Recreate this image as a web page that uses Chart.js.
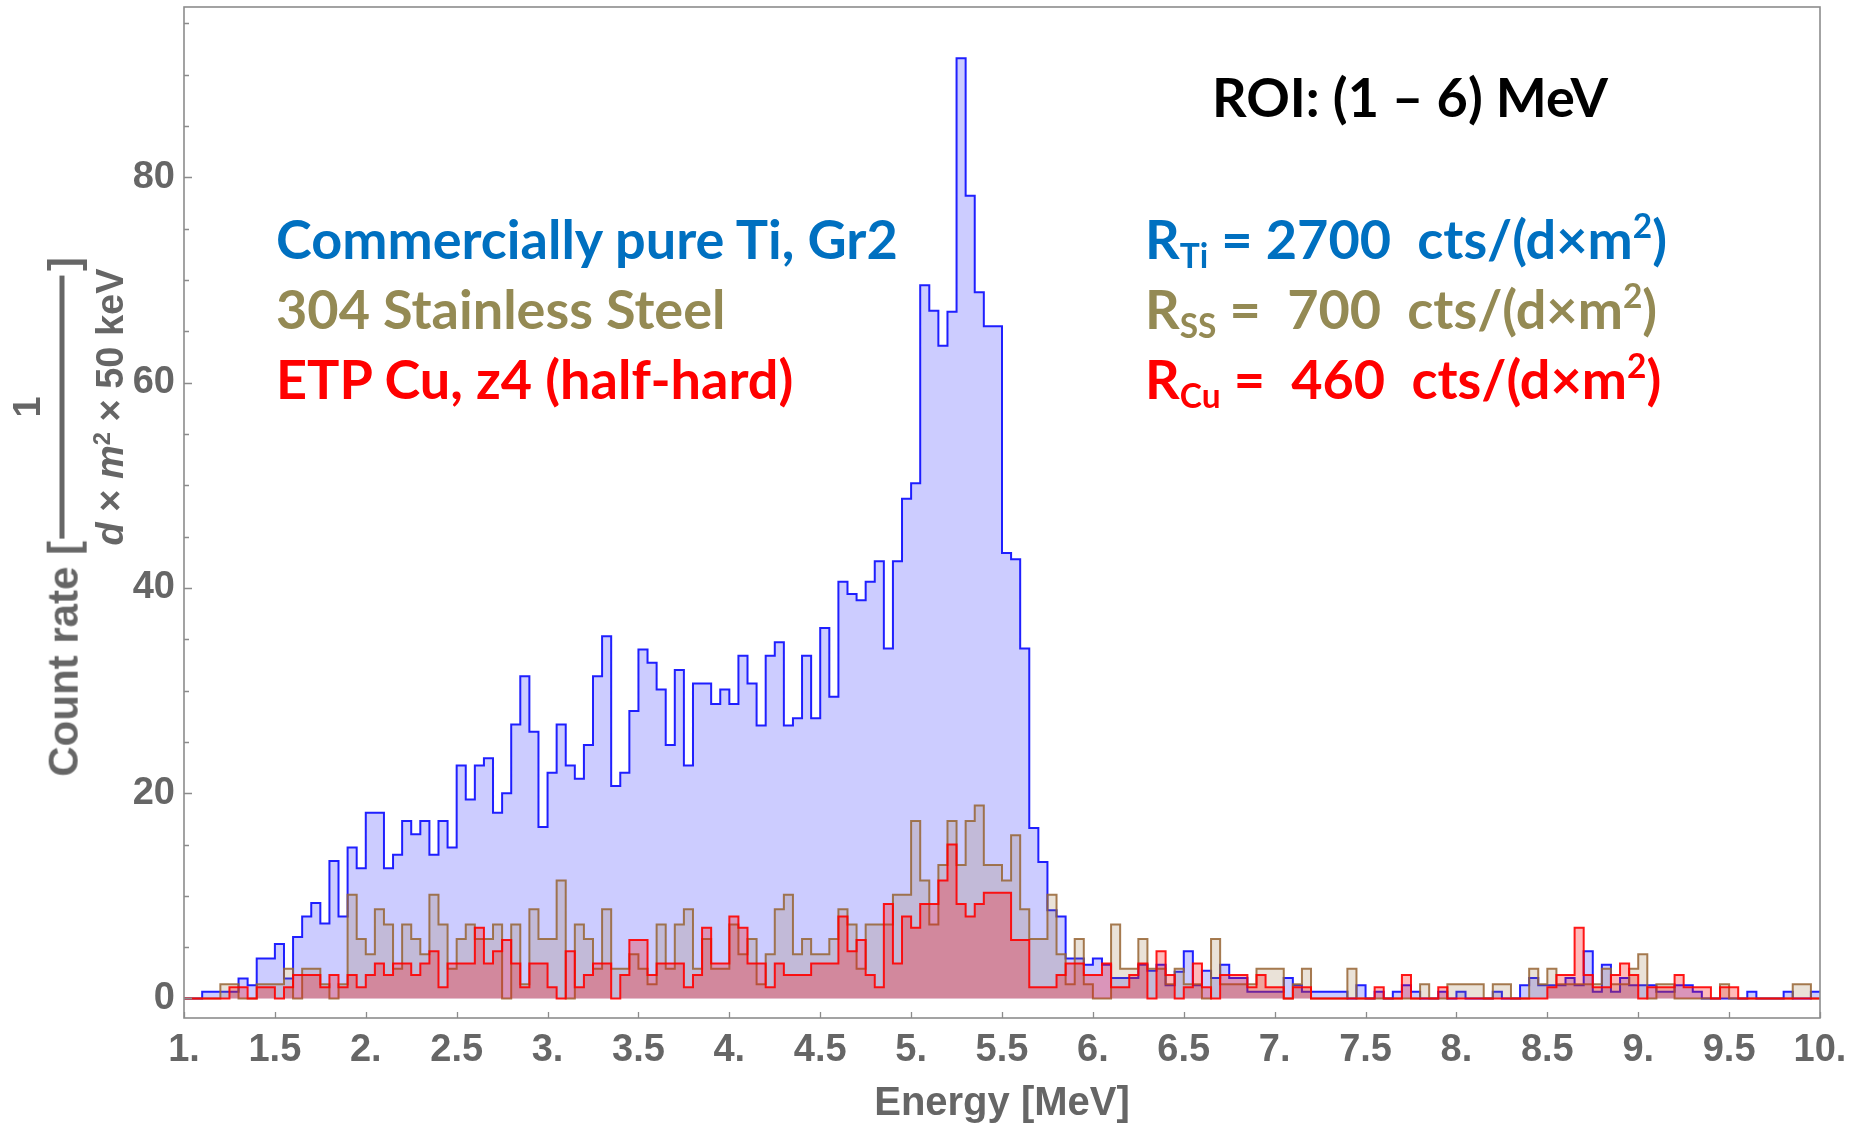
<!DOCTYPE html>
<html>
<head>
<meta charset="utf-8">
<script src="https://cdn.jsdelivr.net/npm/chart.js@4/dist/chart.umd.min.js"></script>
<style>
  html, body { margin: 0; padding: 0; background: #ffffff; }
  #wrap { position: relative; width: 1857px; height: 1124px; overflow: hidden; background: #fff; }
  #c { position: absolute; left: 0; top: 0; }
  .ann { position: absolute; font-family: Lato, "Open Sans", sans-serif; font-weight: 700; white-space: pre; line-height: 1.2; }
  .ann sub { font-size: 0.62em; vertical-align: -0.28em; line-height: 0; }
  .ann sup { font-size: 0.62em; vertical-align: 0.62em; line-height: 0; }
  .ti { color: #0070C0; }
  .ss { color: #948A54; }
  .cu { color: #FF0000; }
  .ytl { position: absolute; font-family: "Liberation Sans", Arial, sans-serif; font-weight: 700; color: #666; white-space: pre; font-size: 42px; line-height: 42px; height: 42px; }
  #ytA { right: 1793px; top: 520px; transform-origin: 100% 50%; transform: rotate(-90deg); }
  #ytB { left: 64px; top: 250px; transform-origin: 0% 50%; transform: rotate(-90deg); }
  #frac { position: absolute; left: 62px; top: 407px; transform: translate(-50%, -50%) rotate(-90deg);
          display: flex; flex-direction: column; align-items: center;
          font-family: "Liberation Sans", Arial, sans-serif; font-weight: 700; color: #666; white-space: pre; }
  #frac .num { font-size: 38px; line-height: 38px; height: 38px; margin-top: 12px; margin-bottom: 14px; }
  #frac .bar { width: 263px; height: 5px; background: #666; }
  #frac .den { font-size: 38px; line-height: 38px; height: 38px; margin-top: 26px; }
  #frac .den sup { font-size: 0.62em; vertical-align: 0.55em; line-height: 0; }
</style>
</head>
<body>
<div id="wrap">
  <canvas id="c" width="1857" height="1124"></canvas>

  <div class="ytl" id="ytA">Count rate [</div>
  <div id="frac"><div class="num">1</div><div class="bar"></div><div class="den"><i>d</i> × <i>m</i><sup>2</sup> × 50 keV</div></div>
  <div class="ytl" id="ytB">]</div>

  <div class="ann" style="left:1212px; top:65px; font-size:54px; color:#000;">ROI: (1 – 6) MeV</div>

  <div class="ann ti" style="left:276px; top:207px; font-size:54px;">Commercially pure Ti, Gr2</div>
  <div class="ann ss" style="left:276px; top:277px; font-size:54px;">304 Stainless Steel</div>
  <div class="ann cu" style="left:276px; top:347px; font-size:54px;">ETP Cu, z4 (half-hard)</div>

  <div class="ann ti" style="left:1145px; top:207px; font-size:54px;">R<sub>Ti</sub> = 2700  cts/(d×m<sup>2</sup>)</div>
  <div class="ann ss" style="left:1145px; top:277px; font-size:54px;">R<sub>SS</sub> =  700  cts/(d×m<sup>2</sup>)</div>
  <div class="ann cu" style="left:1145px; top:347px; font-size:54px;">R<sub>Cu</sub> =  460  cts/(d×m<sup>2</sup>)</div>
</div>

<script>
// ---- Data: count rate per 50 keV bin, bins from 1.00 MeV to 10.00 MeV ----
const energyMin = 1.0;      // MeV, left edge of first bin
const binWidth = 0.05;      // MeV (50 keV)

const tiRate = [
  0, 0, 0.65, 0.65, 0.65, 0.65, 1.95, 1.3, 3.9, 3.9,
  5.3, 1.95, 6.0, 8.0, 9.3, 7.3, 13.4, 8.0, 14.7, 12.7,
  18.1, 18.1, 12.7, 14.0, 17.3, 16.0, 17.3, 14.0, 17.3, 14.7,
  22.7, 19.4, 22.7, 23.4, 18.1, 20.0, 26.7, 31.4, 26.0, 16.7,
  22.0, 26.7, 22.7, 21.4, 24.7, 31.4, 35.3, 20.7, 22.0, 28.0,
  34.0, 32.7, 30.1, 24.7, 32.0, 22.7, 30.7, 30.7, 28.7, 30.1,
  28.7, 33.4, 30.7, 26.6, 33.4, 34.7, 26.6, 27.3, 33.4, 27.3,
  36.1, 29.4, 40.6, 39.4, 38.8, 40.6, 42.6, 34.1, 42.6, 48.7,
  50.2, 69.5, 67.0, 63.6, 66.9, 91.6, 78.2, 68.8, 65.5, 65.5,
  43.4, 42.8, 34.1, 16.6, 13.3, 8.6, 8.0, 3.9, 3.9, 3.3,
  3.9, 3.3, 2.0, 2.0, 2.0, 3.3, 2.7, 3.3, 1.3, 2.6,
  4.6, 1.3, 2.7, 2.0, 3.3, 2.0, 2.0, 0.65, 0.65, 0.65,
  0.65, 2.0, 1.3, 0.65, 0.65, 0.65, 0.65, 0.65, 0, 1.3,
  0, 0.65, 0, 0.65, 1.3, 0.65, 0, 0, 0.65, 0,
  0.65, 0, 0, 0, 0.65, 0, 0, 1.3, 2.0, 1.3,
  1.3, 1.3, 2.0, 1.3, 4.6, 0.65, 3.3, 0.65, 2.0, 1.3,
  1.3, 1.3, 0.65, 0.65, 1.3, 1.3, 0.65, 0, 0, 0,
  0, 0, 0.65, 0, 0, 0, 0.65, 0, 0, 0.65
];

const ssRate = [
  0, 0, 0, 0, 1.4, 1.4, 0, 0, 1.4, 1.4,
  1.4, 2.9, 0, 2.9, 2.9, 1.4, 0, 1.4, 10.1, 5.8,
  4.3, 8.7, 7.2, 2.9, 7.2, 5.8, 4.3, 10.1, 7.2, 2.9,
  5.8, 7.2, 5.8, 5.8, 7.2, 0, 7.2, 1.4, 8.7, 5.8,
  5.8, 11.5, 0, 7.2, 5.8, 2.9, 8.7, 2.9, 2.9, 4.3,
  2.9, 1.4, 7.2, 2.9, 7.2, 8.7, 2.9, 5.8, 2.9, 2.9,
  7.2, 4.3, 5.8, 1.4, 4.3, 8.7, 10.1, 4.3, 5.8, 4.3,
  4.3, 5.8, 8.7, 7.2, 2.9, 7.2, 7.2, 7.2, 10.1, 10.1,
  17.3, 11.5, 7.2, 13.0, 17.3, 13.0, 17.3, 18.8, 13.0, 13.0,
  11.5, 15.9, 8.7, 5.8, 5.8, 10.1, 4.3, 1.4, 5.8, 1.4,
  0, 0, 7.2, 2.9, 2.9, 5.8, 2.9, 2.9, 1.4, 2.9,
  1.4, 1.4, 0, 5.8, 1.4, 1.4, 1.4, 1.4, 2.9, 2.9,
  2.9, 0, 1.4, 2.9, 0, 0, 0, 0, 2.9, 0,
  0, 0, 0, 0, 0, 0, 1.4, 0, 0, 1.4,
  1.4, 1.4, 1.4, 0, 1.4, 1.4, 0, 0, 2.9, 1.4,
  2.9, 1.4, 1.4, 1.4, 1.4, 1.4, 2.9, 1.4, 1.4, 2.9,
  4.3, 0, 1.4, 1.4, 0, 0, 0, 0, 0, 1.4,
  0, 0, 0, 0, 0, 0, 0, 1.4, 1.4, 0
];

const cuRate = [
  0, 0, 0, 0, 0, 1.1, 1.1, 0, 1.1, 1.1,
  0, 1.1, 2.3, 2.3, 2.3, 1.1, 2.3, 1.1, 2.3, 1.1,
  2.3, 3.4, 2.3, 3.4, 3.4, 2.3, 3.4, 4.6, 1.1, 3.4,
  3.4, 3.4, 6.9, 3.4, 4.6, 5.7, 3.4, 1.1, 3.4, 3.4,
  1.1, 0, 4.6, 1.1, 2.3, 3.4, 3.4, 0, 2.3, 5.7,
  5.7, 2.3, 3.4, 3.4, 3.4, 1.1, 2.3, 6.9, 3.4, 3.4,
  8.0, 6.9, 3.4, 3.4, 1.1, 3.4, 2.3, 2.3, 2.3, 3.4,
  3.4, 3.4, 8.0, 4.6, 5.7, 2.3, 1.1, 9.2, 3.4, 8.0,
  6.9, 9.2, 9.2, 11.5, 15.0, 9.2, 8.0, 9.2, 10.3, 10.3,
  10.3, 5.7, 5.7, 1.1, 1.1, 1.1, 2.3, 3.4, 3.4, 2.3,
  2.3, 3.4, 1.1, 1.1, 2.3, 3.4, 0, 4.6, 2.3, 0,
  1.1, 3.4, 1.1, 0, 2.3, 2.3, 2.3, 1.1, 2.3, 1.1,
  1.1, 0, 1.1, 1.1, 0, 0, 0, 0, 0, 0,
  0, 1.1, 0, 0, 2.3, 0, 0, 0, 1.1, 0,
  0, 0, 0, 0, 0, 0, 0, 0, 0, 0,
  1.1, 2.3, 2.3, 6.9, 2.3, 1.1, 1.1, 2.3, 3.4, 2.3,
  0, 1.1, 1.1, 1.1, 2.3, 1.1, 1.1, 1.1, 0, 1.1,
  1.1, 0, 0, 0, 0, 0, 0, 0, 0, 0
];

const xRange = [1, 10];        // MeV
const yRange = [-1.9, 96.6];   // count rate
const xTickStep = 0.5;
const yTickStep = 5;
const yLabelStep = 20;

// Build step-histogram points (left bin edges + closing right edge)
function histPoints(vals) {
  const pts = [{ x: energyMin, y: 0 }];
  vals.forEach((v, i) => pts.push({ x: +(energyMin + i * binWidth).toFixed(3), y: v }));
  pts.push({ x: +(energyMin + vals.length * binWidth).toFixed(3), y: vals[vals.length - 1] });
  return pts;
}

const tickFont = { family: "'Liberation Sans', Arial, sans-serif", size: 38, weight: 'bold' };

// Frame + inward tick marks (Mathematica style)
const framePlugin = {
  id: 'frame',
  afterDraw(chart) {
    const { ctx, chartArea: a, scales } = chart;
    ctx.save();
    ctx.strokeStyle = '#8c8c8c';
    ctx.lineWidth = 1.6;
    ctx.strokeRect(a.left, a.top, a.right - a.left, a.bottom - a.top);
    ctx.lineWidth = 1.3;
    ctx.beginPath();
    scales.y.ticks.forEach(t => {
      const y = Math.round(scales.y.getPixelForValue(t.value)) + 0.5;
      const len = (t.value % yLabelStep === 0) ? 8 : 5;
      ctx.moveTo(a.left, y); ctx.lineTo(a.left + len, y);
    });
    scales.x.ticks.forEach(t => {
      const x = Math.round(scales.x.getPixelForValue(t.value)) + 0.5;
      ctx.moveTo(x, a.bottom); ctx.lineTo(x, a.bottom - 6);
    });
    ctx.stroke();
    ctx.restore();
  }
};

new Chart(document.getElementById('c'), {
  type: 'line',
  data: {
    datasets: [
      { label: 'Commercially pure Ti, Gr2', data: histPoints(tiRate), stepped: true, fill: 'origin',
        borderColor: 'rgba(20,20,255,0.95)', backgroundColor: 'rgba(0,0,255,0.2)', borderWidth: 2,
        pointRadius: 0, order: 3 },
      { label: '304 Stainless Steel', data: histPoints(ssRate), stepped: true, fill: 'origin',
        borderColor: 'rgba(150,100,50,0.85)', backgroundColor: 'rgba(150,110,60,0.2)', borderWidth: 2,
        pointRadius: 0, order: 2 },
      { label: 'ETP Cu, z4 (half-hard)', data: histPoints(cuRate), stepped: true, fill: 'origin',
        borderColor: 'rgba(255,0,0,0.9)', backgroundColor: 'rgba(255,0,0,0.27)', borderWidth: 2,
        pointRadius: 0, order: 1 }
    ]
  },
  options: {
    responsive: false,
    animation: false,
    layout: { padding: { top: 7, right: 37, left: 0, bottom: 0 } },
    plugins: { legend: { display: false }, tooltip: { enabled: false } },
    scales: {
      x: {
        type: 'linear', min: xRange[0], max: xRange[1],
        afterFit(s) { s.height = 106; s.paddingLeft = 0; s.paddingRight = 0; },
        grid: { display: false, drawTicks: false },
        border: { display: false },
        ticks: {
          stepSize: xTickStep, autoSkip: false, maxRotation: 0, padding: 10,
          font: tickFont, color: '#666',
          callback: v => Number.isInteger(v) ? v.toFixed(0) + '.' : String(v)
        },
        title: { display: true, text: 'Energy [MeV]', color: '#666',
                 font: { family: "'Liberation Sans', Arial, sans-serif", size: 40, weight: 'bold' },
                 padding: { top: 0, bottom: -4 } }
      },
      y: {
        type: 'linear', min: yRange[0], max: yRange[1],
        afterFit(s) { s.width = 184; s.paddingTop = 0; s.paddingBottom = 0; },
        grid: { display: false, drawTicks: false },
        border: { display: false },
        ticks: {
          stepSize: yTickStep, includeBounds: false, autoSkip: false, padding: 9,
          font: tickFont, color: '#666',
          callback: v => (v % yLabelStep === 0 ? String(v) : '')
        }
      }
    }
  },
  plugins: [framePlugin]
});
</script>
</body>
</html>
